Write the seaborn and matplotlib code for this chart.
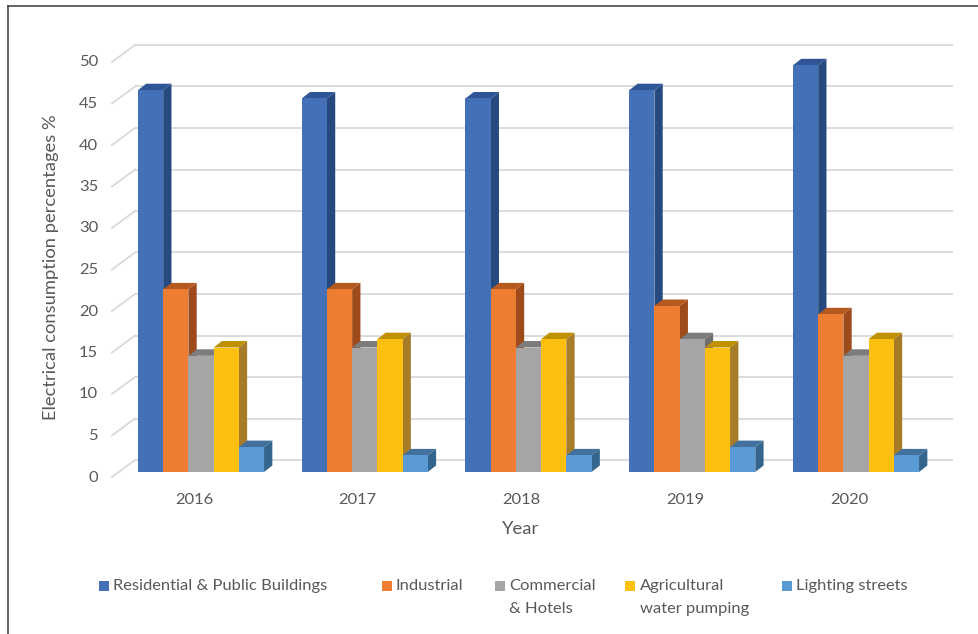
import matplotlib
matplotlib.use("Agg")
import matplotlib.pyplot as plt
import matplotlib.transforms as mtrans
from matplotlib.patches import Polygon, Rectangle
from matplotlib.lines import Line2D
import pandas as pd
import seaborn as sns

years = ["2016", "2017", "2018", "2019", "2020"]
sectors = ["Residential & Public Buildings", "Industrial", "Commercial\n& Hotels",
           "Agricultural\nwater pumping", "Lighting streets"]
residential = [46, 45, 45, 46, 49]
industrial = [22, 22, 22, 20, 19]
commercial = [14, 15, 15, 16, 14]
agricultural = [15, 16, 16, 15, 16]
lighting = [3, 2, 2, 3, 2]
y_ticks = [0, 5, 10, 15, 20, 25, 30, 35, 40, 45, 50]

front_colors = ["#4470B8", "#ED7D31", "#A5A5A5", "#FDC010", "#5B9BD5"]
top_colors = ["#2F5597", "#B5591F", "#7C7C7C", "#BF9000", "#41719C"]
side_colors = ["#264A80", "#9E4A1B", "#6E6E6E", "#A67C28", "#34658C"]

W, H = 979, 634
text_color = "#595959"
grid_color = "#D9D9D9"
plt.rcParams["font.family"] = ["Lato", "DejaVu Sans"]
FS = 11.85
FS_TITLE = 13.2

fig = plt.figure(figsize=(W / 100, H / 100), dpi=100, facecolor="white")
ax = fig.add_axes([112 / W, 1 - 472 / H, 818 / W, 415 / H])
ax.patch.set_visible(False)

df = pd.DataFrame({
    "Year": years * 5,
    "Percent": residential + industrial + commercial + agricultural + lighting,
    "Sector": sum([[s] * 5 for s in sectors], []),
})
sns.barplot(data=df, x="Year", y="Percent", hue="Sector", hue_order=sectors,
            palette=front_colors, saturation=1, width=0.77, gap=0, dodge=True,
            legend=False, ax=ax, linewidth=0, err_kws={"linewidth": 0})

ax.set_xlim((112 - 201) / 163.75, (930 - 201) / 163.75)
ax.set_ylim(0, 50)
for sp in ax.spines.values():
    sp.set_visible(False)
ax.set_yticks(y_ticks)
ax.tick_params(axis="both", length=0, labelsize=FS, labelcolor=text_color)
ax.tick_params(axis="y", pad=10)
ax.tick_params(axis="x", pad=15)
ax.set_xlabel("Year", fontsize=FS_TITLE, color=text_color)
ax.set_ylabel("Electrical consumption percentages %", fontsize=FS_TITLE, color=text_color)
ax.xaxis.set_label_coords(521 / W, 1 - 534 / H, transform=fig.transFigure)
ax.yaxis.set_label_coords(51.5 / W, 1 - 267 / H, transform=fig.transFigure)
ax.yaxis.label.set_va("center")
ax.xaxis.label.set_va("baseline")

for lab in ax.get_yticklabels():
    lab.set_transform(lab.get_transform() + mtrans.Affine2D().translate(0, -4))
for lab in ax.get_xticklabels():
    lab.set_transform(lab.get_transform() + mtrans.Affine2D().translate(-7, 0))

# back wall and its diagonal ticks, in px offset from the value scale
wall = ax.get_yaxis_transform() + mtrans.Affine2D().translate(23, 12)
ax.hlines(y_ticks, 0, 1, transform=wall, color=grid_color, lw=1.3, zorder=0.5, clip_on=False)
ytrans = ax.get_yaxis_transform()
for v in y_ticks:
    x0, y0 = ytrans.transform((0, v))
    fig.add_artist(Line2D([x0, x0 + 23], [y0 - 5, y0 + 12], transform=None,
                          color=grid_color, lw=1.3, zorder=0.5))

# 3D depth of every bar, built from the bars that seaborn drew
fig.canvas.draw()
DX, DY = 8.3, 6.5
bars = sorted([p for p in ax.patches if p.get_height() > 0], key=lambda p: p.get_x())
order = {c.upper(): i for i, c in enumerate(front_colors)}
for k, p in enumerate(bars):
    (x0, y0), (x1, y1) = ax.transData.transform(
        [(p.get_x(), 0), (p.get_x() + p.get_width(), p.get_height())])
    idx = order[matplotlib.colors.to_hex(p.get_facecolor()).upper()]
    z = 2 + k * 3
    ax.add_patch(Polygon([(x1, y0), (x1 + DX, y0 + DY), (x1 + DX, y1 + DY), (x1, y1)],
                         closed=True, transform=None, fc=side_colors[idx], ec="none",
                         zorder=z, clip_on=False))
    ax.add_patch(Polygon([(x0, y1), (x0 + DX, y1 + DY), (x1 + DX, y1 + DY), (x1, y1)],
                         closed=True, transform=None, fc=top_colors[idx], ec="none",
                         zorder=z + 1, clip_on=False))
    p.set_zorder(z + 2)

# legend
swatch_x = [99, 382, 495, 625, 782]
text_x = [113, 396, 509, 640, 796]
for name, col, sx, tx in zip(sectors, front_colors, swatch_x, text_x):
    fig.add_artist(Rectangle((sx / W, 1 - 591 / H), 10 / W, 10 / H,
                             transform=fig.transFigure, fc=col, ec="none"))
    fig.text(tx / W, 1 - (590 + 23 * name.count("\n")) / H, name, fontsize=FS,
             color=text_color, ha="left", va="baseline", linespacing=1.78)

# outer frame, open at right and bottom
frame = "#3A3A3A"
fig.add_artist(Line2D([8.5 / W, 8.5 / W], [0, 1 - 5.5 / H], transform=fig.transFigure,
                      color=frame, lw=1.1))
fig.add_artist(Line2D([8.5 / W, 1], [1 - 5.5 / H, 1 - 5.5 / H], transform=fig.transFigure,
                      color=frame, lw=1.1))

fig.savefig("out.png", dpi=100)
